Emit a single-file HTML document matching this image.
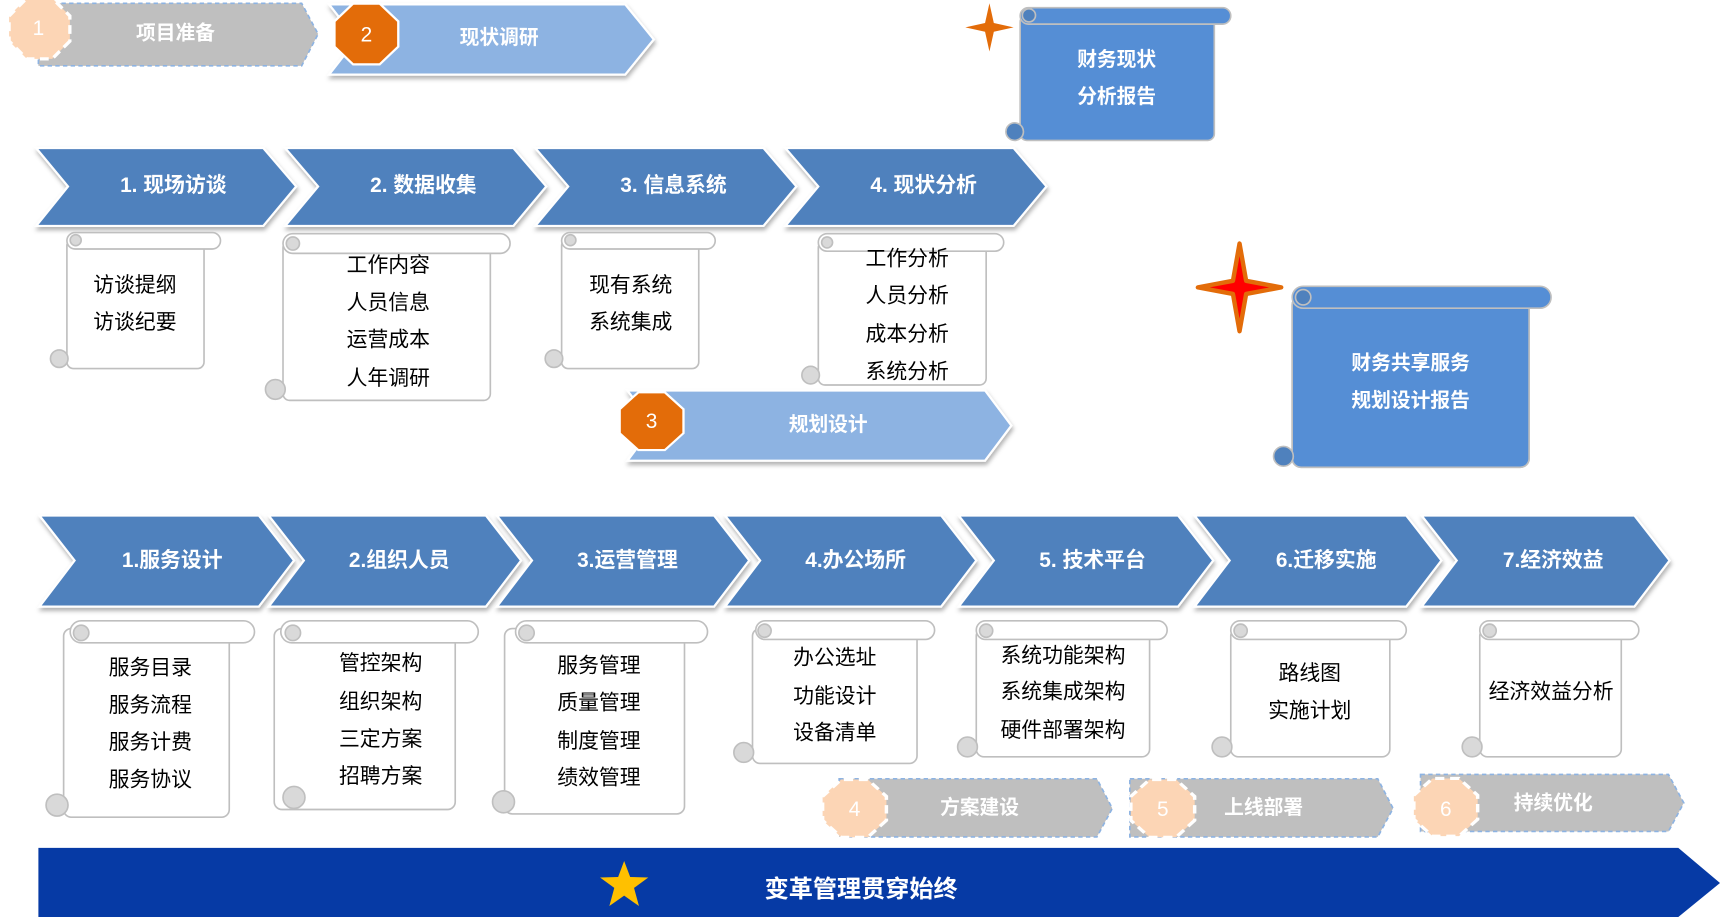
<!DOCTYPE html>
<html><head><meta charset="utf-8"><style>
html,body{margin:0;padding:0;background:#fff;}
svg{display:block;}
text{font-family:"Liberation Sans","Noto Sans CJK SC",sans-serif;}
.h{fill:#fff;font-weight:bold;font-size:19px;text-anchor:middle;}
.b{fill:#000;font-size:19px;text-anchor:middle;}
.g{fill:#fff;font-weight:bold;font-size:18px;text-anchor:middle;}
</style></head><body>
<svg width="1720" height="917" viewBox="0 0 1568 836" preserveAspectRatio="none" xmlns="http://www.w3.org/2000/svg">
<defs>
<filter id="sh" x="-5%" y="-10%" width="110%" height="130%"><feDropShadow dx="1" dy="3" stdDeviation="2" flood-color="#000" flood-opacity="0.3"/></filter>
<polygon id="oct" points="27.7,11.5 11.5,27.7 -11.5,27.7 -27.7,11.5 -27.7,-11.5 -11.5,-27.7 11.5,-27.7 27.7,-11.5"/>
</defs>

<!-- top gray chevron -->
<path d="M35,3 L275,3 L290,31 L275,60 L35,60 Z" fill="#bfbfbf" stroke="#8db3e2" stroke-width="1.5" stroke-dasharray="4,3"/>
<g transform="translate(36,26)"><use href="#oct" fill="#fcd5b5" stroke="#fff" stroke-width="3" stroke-dasharray="8,5"/></g>
<text x="35" y="32" fill="#fff" font-size="19" text-anchor="middle">1</text>
<text x="160" y="36" class="g">项目准备</text>

<!-- 现状调研 -->
<path d="M300,4 L570,4 L596,36 L570,68 L300,68 L325,36 Z" fill="#8db3e2" stroke="#fff" stroke-width="2" filter="url(#sh)"/>
<g transform="translate(334,31) scale(1.05,1)"><use href="#oct" fill="#e36c09" stroke="#fff" stroke-width="2"/></g>
<text x="334" y="38" fill="#fff" font-size="19" text-anchor="middle">2</text>
<text x="455" y="40" class="g">现状调研</text>

<!-- orange star -->
<path d="M902,3 L906,21 L924,25 L906,29 L902,47 L898,29 L880,25 L898,21 Z" fill="#e36c09"/>

<!-- scroll blue 1 -->
<g stroke="#bfbfbf" stroke-width="1.5">
<rect x="930" y="14" width="177" height="114" rx="6" fill="#558ed5"/>
<rect x="930" y="7" width="192" height="15" rx="7.5" fill="#558ed5"/>
<circle cx="938" cy="14" r="6" fill="#4f81bd"/>
<circle cx="925" cy="120" r="8" fill="#4f81bd"/>
</g>
<text x="1018" y="60" class="g">财务现状</text>
<text x="1018" y="94" class="g">分析报告</text>

<!-- row 1 chevrons -->
<g fill="#4f81bd" stroke="#fff" stroke-width="2" filter="url(#sh)">
<path d="M33,135 L240,135 L270,170 L240,206 L33,206 L62,170 Z"/>
<path d="M260,135 L468,135 L498,170 L468,206 L260,206 L290,170 Z"/>
<path d="M488,135 L696,135 L726,170 L696,206 L488,206 L518,170 Z"/>
<path d="M716,135 L924,135 L954,170 L924,206 L716,206 L746,170 Z"/>
</g>
<text x="158" y="175" class="h">1. 现场访谈</text>
<text x="386" y="175" class="h">2. 数据收集</text>
<text x="614" y="175" class="h">3. 信息系统</text>
<text x="842" y="175" class="h">4. 现状分析</text>

<!-- scrolls row 1 -->
<g fill="#fff" stroke="#bfbfbf" stroke-width="1.5">
<rect x="61" y="218" width="125" height="118" rx="6"/><rect x="61" y="212" width="140" height="15" rx="7.5"/><circle cx="69" cy="219" r="5" fill="#d9d9d9"/><circle cx="54" cy="327" r="8" fill="#d9d9d9"/>
<rect x="258" y="220" width="189" height="145" rx="6"/><rect x="258" y="213" width="207" height="18" rx="9"/><circle cx="267" cy="222" r="6" fill="#d9d9d9"/><circle cx="251" cy="355" r="9" fill="#d9d9d9"/>
<rect x="512" y="218" width="125" height="118" rx="6"/><rect x="512" y="212" width="140" height="15" rx="7.5"/><circle cx="520" cy="219" r="5" fill="#d9d9d9"/><circle cx="505" cy="327" r="8" fill="#d9d9d9"/>
<rect x="746" y="220" width="153" height="131" rx="6"/><rect x="746" y="213" width="169" height="16" rx="8"/><circle cx="754" cy="221" r="5" fill="#d9d9d9"/><circle cx="739" cy="342" r="8" fill="#d9d9d9"/>
</g>
<text x="123" y="266" class="b">访谈提纲</text><text x="123" y="300" class="b">访谈纪要</text>
<text x="354" y="248" class="b">工作内容</text><text x="354" y="282" class="b">人员信息</text><text x="354" y="316" class="b">运营成本</text><text x="354" y="351" class="b">人年调研</text>
<text x="575" y="266" class="b">现有系统</text><text x="575" y="300" class="b">系统集成</text>
<text x="827" y="242" class="b">工作分析</text><text x="827" y="276" class="b">人员分析</text><text x="827" y="311" class="b">成本分析</text><text x="827" y="345" class="b">系统分析</text>

<!-- 规划设计 -->
<path d="M572,356 L898,356 L922,388 L898,420 L572,420 L596,388 Z" fill="#8db3e2" stroke="#fff" stroke-width="2" filter="url(#sh)"/>
<g transform="translate(594,384) scale(1.05,0.95)"><use href="#oct" fill="#e36c09" stroke="#fff" stroke-width="2"/></g>
<text x="594" y="390" fill="#fff" font-size="19" text-anchor="middle">3</text>
<text x="755" y="393" class="g">规划设计</text>

<!-- red star -->
<path d="M1130,222 L1136,256 L1168,262 L1136,268 L1130,302 L1124,268 L1092,262 L1124,256 Z" fill="#ff0000" stroke="#e36c09" stroke-width="4" stroke-linejoin="round"/>

<!-- scroll blue 2 -->
<g stroke="#bfbfbf" stroke-width="1.5">
<rect x="1178" y="270" width="216" height="156" rx="8"/>
<rect x="1178" y="270" width="216" height="156" rx="8" fill="#558ed5"/>
<rect x="1178" y="261" width="236" height="20" rx="10" fill="#558ed5"/>
<circle cx="1188" cy="271" r="7" fill="#4f81bd"/>
<circle cx="1170" cy="416" r="9" fill="#4f81bd"/>
</g>
<text x="1286" y="337" class="g">财务共享服务</text>
<text x="1286" y="371" class="g">规划设计报告</text>

<!-- row 2 chevrons -->
<g fill="#4f81bd" stroke="#fff" stroke-width="2" filter="url(#sh)">
<path d="M36,470 L236,470 L268,511 L236,553 L36,553 L68,511 Z"/>
<path d="M245,470 L443,470 L475,511 L443,553 L245,553 L277,511 Z"/>
<path d="M453,470 L651,470 L683,511 L651,553 L453,553 L485,511 Z"/>
<path d="M661,470 L858,470 L890,511 L858,553 L661,553 L693,511 Z"/>
<path d="M874,470 L1074,470 L1106,511 L1074,553 L874,553 L906,511 Z"/>
<path d="M1089,470 L1282,470 L1314,511 L1282,553 L1089,553 L1121,511 Z"/>
<path d="M1296,470 L1490,470 L1522,511 L1490,553 L1296,553 L1328,511 Z"/>
</g>
<text x="157" y="517" class="h">1.服务设计</text>
<text x="364" y="517" class="h">2.组织人员</text>
<text x="572" y="517" class="h">3.运营管理</text>
<text x="780" y="517" class="h">4.办公场所</text>
<text x="996" y="517" class="h">5. 技术平台</text>
<text x="1209" y="517" class="h">6.迁移实施</text>
<text x="1416" y="517" class="h">7.经济效益</text>

<!-- scrolls row 2 -->
<g fill="#fff" stroke="#bfbfbf" stroke-width="1.5">
<rect x="58" y="573" width="151" height="172" rx="7"/><rect x="64" y="566" width="168" height="20" rx="10"/><circle cx="74" cy="577" r="7" fill="#d9d9d9"/><circle cx="52" cy="734" r="10" fill="#d9d9d9"/>
<rect x="250" y="573" width="165" height="165" rx="7"/><rect x="256" y="566" width="180" height="20" rx="10"/><circle cx="267" cy="577" r="7" fill="#d9d9d9"/><circle cx="268" cy="727" r="10" fill="#d9d9d9"/>
<rect x="460" y="573" width="164" height="169" rx="7"/><rect x="470" y="566" width="175" height="20" rx="10"/><circle cx="480" cy="577" r="7" fill="#d9d9d9"/><circle cx="459" cy="731" r="10" fill="#d9d9d9"/>
<rect x="686" y="573" width="150" height="123" rx="7"/><rect x="689" y="566" width="163" height="17" rx="8.5"/><circle cx="697" cy="575" r="6" fill="#d9d9d9"/><circle cx="678" cy="686" r="9" fill="#d9d9d9"/>
<rect x="890" y="573" width="158" height="117" rx="7"/><rect x="890" y="566" width="174" height="17" rx="8.5"/><circle cx="899" cy="575" r="6" fill="#d9d9d9"/><circle cx="882" cy="681" r="9" fill="#d9d9d9"/>
<rect x="1122" y="573" width="145" height="117" rx="7"/><rect x="1122" y="566" width="160" height="17" rx="8.5"/><circle cx="1131" cy="575" r="6" fill="#d9d9d9"/><circle cx="1114" cy="681" r="9" fill="#d9d9d9"/>
<rect x="1349" y="573" width="129" height="117" rx="7"/><rect x="1349" y="566" width="145" height="17" rx="8.5"/><circle cx="1358" cy="575" r="6" fill="#d9d9d9"/><circle cx="1342" cy="681" r="9" fill="#d9d9d9"/>
</g>
<text x="137" y="615" class="b">服务目录</text><text x="137" y="649" class="b">服务流程</text><text x="137" y="683" class="b">服务计费</text><text x="137" y="717" class="b">服务协议</text>
<text x="347" y="611" class="b">管控架构</text><text x="347" y="646" class="b">组织架构</text><text x="347" y="680" class="b">三定方案</text><text x="347" y="714" class="b">招聘方案</text>
<text x="546" y="613" class="b">服务管理</text><text x="546" y="647" class="b">质量管理</text><text x="546" y="682" class="b">制度管理</text><text x="546" y="715" class="b">绩效管理</text>
<text x="761" y="606" class="b">办公选址</text><text x="761" y="641" class="b">功能设计</text><text x="761" y="674" class="b">设备清单</text>
<text x="969" y="604" class="b">系统功能架构</text><text x="969" y="637" class="b">系统集成架构</text><text x="969" y="672" class="b">硬件部署架构</text>
<text x="1194" y="620" class="b">路线图</text><text x="1194" y="654" class="b">实施计划</text>
<text x="1414" y="637" class="b">经济效益分析</text>

<!-- gray chevrons bottom -->
<g fill="#bfbfbf" stroke="#8db3e2" stroke-width="1.5" stroke-dasharray="4,3">
<path d="M765,710 L1000,710 L1014,737 L1000,763 L765,763 Z"/>
<path d="M1030,710 L1256,710 L1270,737 L1256,763 L1030,763 Z"/>
<path d="M1295,706 L1521,706 L1535,732 L1521,758 L1295,758 Z"/>
</g>
<g fill="#fcd5b5" stroke="#fff" stroke-width="3" stroke-dasharray="8,5">
<use href="#oct" transform="translate(779,737) scale(1.05,0.95)"/>
<use href="#oct" transform="translate(1060,737) scale(1.05,0.95)"/>
<use href="#oct" transform="translate(1318,736) scale(1.05,0.95)"/>
</g>
<text x="779" y="744" fill="#fff" font-size="19" text-anchor="middle">4</text>
<text x="1060" y="744" fill="#fff" font-size="19" text-anchor="middle">5</text>
<text x="1318" y="744" fill="#fff" font-size="19" text-anchor="middle">6</text>
<text x="893" y="742" class="g">方案建设</text>
<text x="1152" y="742" class="g">上线部署</text>
<text x="1416" y="738" class="g">持续优化</text>

<!-- bottom bar -->
<path d="M35,773 L1530,773 L1568,805 L1530,836 L35,836 Z" fill="#063aa5"/>
<path d="M569,785 L574.5,799.5 L591,800 L578,809.5 L582.5,826 L569,816.5 L555.5,826 L560,809.5 L547,800 L563.5,799.5 Z" fill="#ffc000"/>
<text x="785" y="818" fill="#fff" font-weight="bold" font-size="22" text-anchor="middle">变革管理贯穿始终</text>
</svg>
</body></html>
